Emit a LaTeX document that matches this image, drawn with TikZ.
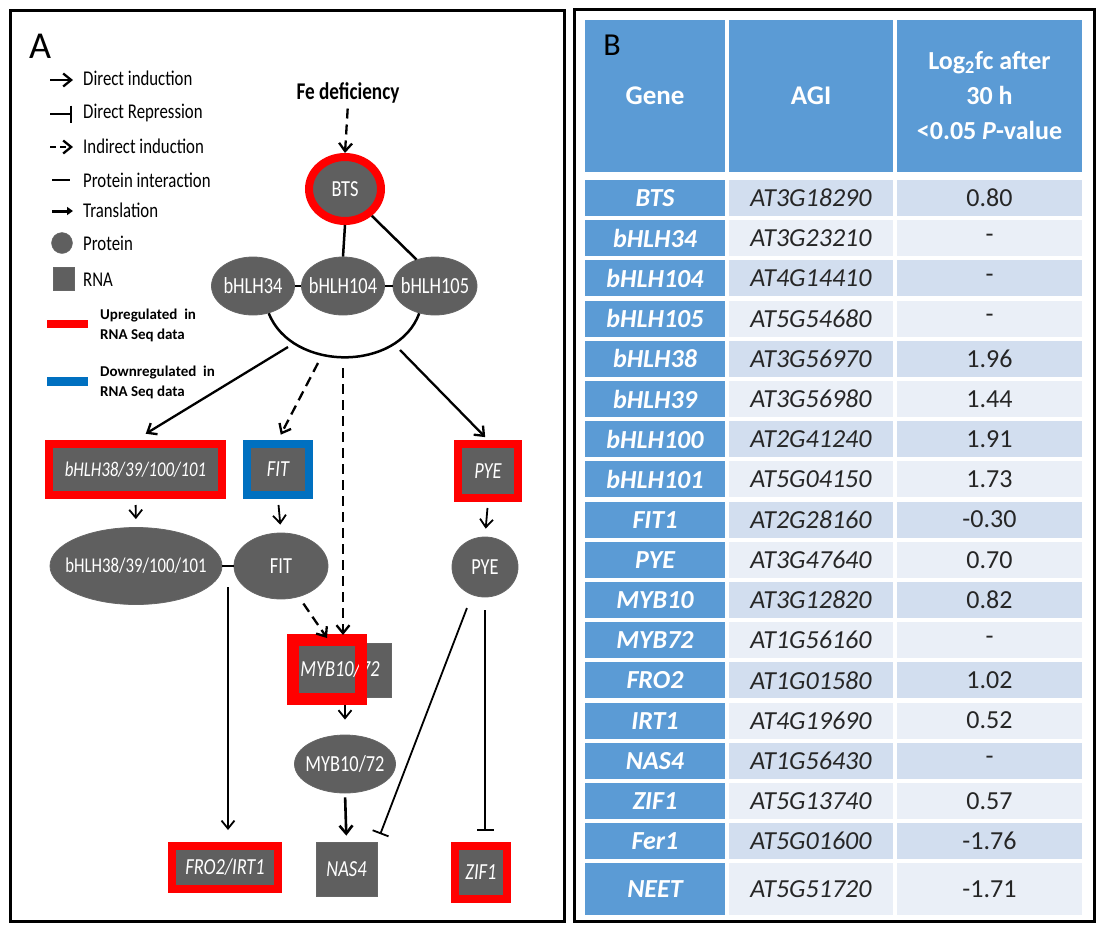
\documentclass[tikz,border=0pt]{standalone}
\usepackage{fontspec}
\setmainfont{Carlito}
\newfontfamily\condfont[FakeStretch=0.8]{Carlito}
\usetikzlibrary{shapes.geometric, arrows.meta, calc}

\definecolor{protgrey}{HTML}{5F5F5F}
\definecolor{upred}{HTML}{FF0000}
\definecolor{downblue}{HTML}{0070C0}
\definecolor{hdrblue}{HTML}{5B9BD5}
\definecolor{rowdark}{HTML}{D2DEEF}
\definecolor{rowlight}{HTML}{EAEFF7}

\newcommand{\zw}[1]{\makebox[0pt]{#1}}

\tikzset{
  prot/.style={ellipse, fill=protgrey, draw=black!60, line width=0.8pt, inner sep=0pt,
    text=white, font=\condfont\fontsize{23}{23}\selectfont},
  rna/.style={rectangle, fill=protgrey, draw=black!60, line width=0.8pt, inner sep=0pt,
    text=white, font=\condfont\fontsize{23}{23}\selectfont\itshape},
  upreg/.style={draw=upred, line width=8pt},
  downreg/.style={draw=downblue, line width=8pt},
  induce/.style={->, line width=2.3pt},
  indirect/.style={->, line width=2.3pt, dash pattern=on 10pt off 6pt},
  repress/.style={-{Bar[width=17pt]}, line width=1.8pt},
  interact/.style={line width=2.5pt},
  transl/.style={->, line width=1.8pt},
  legtext/.style={anchor=base west, inner sep=0pt, font=\condfont\fontsize{21}{21}\selectfont},
  keytext/.style={anchor=west, inner sep=0pt, align=left, font=\fontsize{15}{20}\selectfont\bfseries},
  cell/.style={rectangle, inner sep=0pt, font=\fontsize{26}{28}\selectfont},
}

\begin{document}
\begin{tikzpicture}[x=1pt, y=-1pt, >={Straight Barb[length=8pt,width=13pt]}]
  \fill[white] (0,0) rectangle (1098,924);
  \useasboundingbox (0,0) rectangle (1098,924);

  % panel A
  \draw[line width=3pt] (10,10) rectangle (564,921);
  \node[anchor=base, inner sep=0pt, font=\fontsize{38}{38}\selectfont] (lblA) at (40,58) {A};

  % legend
  \node[legtext] (lgDI) at (83,85) {Direct induction};
  \node[legtext] (lgDR) at (83,118) {Direct Repression};
  \node[legtext] (lgII) at (83,153) {Indirect induction};
  \node[legtext] (lgPI) at (83,187) {Protein interaction};
  \node[legtext] (lgTR) at (83,217) {Translation};
  \node[legtext] (lgP) at (83,250) {Protein};
  \node[legtext] (lgR) at (83,286) {RNA};
  \draw[induce] ($(lgDI.base west)+(-33,-5)$) -- ($(lgDI.base west)+(-10,-5)$);
  \draw[repress, line width=2.2pt] ($(lgDR.base west)+(-33,-4)$) -- ($(lgDR.base west)+(-11,-4)$);
  \draw[indirect, dash pattern=on 6pt off 4pt] ($(lgII.base west)+(-33,-6)$) -- ($(lgII.base west)+(-10,-6)$);
  \draw[interact] ($(lgPI.base west)+(-31,-7)$) -- ($(lgPI.base west)+(-13,-7)$);
  \draw[-{Triangle[length=6pt,width=8pt]}, line width=3pt] ($(lgTR.base west)+(-31,-6)$) -- ($(lgTR.base west)+(-10,-6)$);
  \draw[fill=protgrey, draw=black!60] ($(lgP.base west)+(-21,-7)$) circle (10.5);
  \draw[fill=protgrey, draw=black!60] ($(lgR.base west)+(-30,-19)$) rectangle +(21,23);

  \fill[upred] (47,320) rectangle (88,328);
  \node[keytext] (keyUp) at (100,325) {Upregulated\ \ in\\RNA Seq data};
  \fill[downblue] (47,377) rectangle (88,386);
  \node[keytext] (keyDown) at (100,382) {Downregulated\ \ in\\RNA Seq data};

  % network
  \node[inner sep=0pt, font=\condfont\fontsize{24}{24}\selectfont\bfseries] (fe) at (348,93) {Fe deficiency};
  \node[prot, upreg, minimum width=72, minimum height=64] (bts) at (345,189) {\zw{BTS}};
  \node[prot, minimum width=83, minimum height=58] (b34) at (253,286) {\zw{bHLH34}};
  \node[prot, minimum width=83, minimum height=58] (b104) at (343,286) {\zw{bHLH104}};
  \node[prot, minimum width=84, minimum height=58] (b105) at (435,286) {\zw{bHLH105}};

  \node[rna, upreg, minimum width=173, minimum height=51,
    font=\condfont\fontsize{21}{21}\selectfont\itshape] (bhlhR) at (135.5,469.5) {bHLH38/39/100/101};
  \node[rna, downreg, minimum width=62, minimum height=51] (fitR) at (278,469.5) {FIT};
  \node[rna, upreg, minimum width=60, minimum height=54] (pyeR) at (488,471) {PYE};

  \node[prot, minimum width=172, minimum height=77,
    font=\condfont\fontsize{21}{21}\selectfont] (bhlhP) at (136,566) {\zw{bHLH38/39/100/101}};
  \node[prot, minimum width=94, minimum height=66] (fitP) at (281,566) {\zw{FIT}};
  \node[prot, minimum width=66, minimum height=60] (pyeP) at (485,567) {\zw{PYE}};

  \node[rna, minimum width=41, minimum height=54] (myb72) at (370.5,670) {};
  \node[rna, upreg, minimum width=64, minimum height=55] (mybR) at (327,669.5) {};
  \node[inner sep=0pt, text=white, font=\condfont\fontsize{23}{23}\selectfont\itshape] (mybT) at (340,669) {MYB10/72};
  \draw[upred, line width=8pt] (mybR.north west) rectangle (mybR.south east);
  \node[prot, minimum width=101, minimum height=58] (mybP) at (345,764) {\zw{MYB10/72}};

  \node[rna, upreg, minimum width=106, minimum height=43] (froR) at (225,867.5) {FRO2/IRT1};
  \node[rna, minimum width=61, minimum height=54] (nasR) at (346.5,869) {NAS4};
  \node[rna, upreg, minimum width=52, minimum height=53] (zifR) at (481,872.5) {ZIF1};

  \coordinate (kA) at (288,347);
  \coordinate (kB) at (318,363);
  \coordinate (kC) at (343,368);
  \coordinate (kD) at (400,350);
  \coordinate (kE) at (228,587);

  \draw[indirect, shorten <=5pt] (fe.south) -- (bts.north);
  \draw[interact] (bts.south) -- (b104.north);
  \draw[interact] (bts.-45) -- (b105.125);
  \draw[interact] (b34.east) -- (b104.west);
  \draw[interact] (b104.east) -- (b105.west);
  \draw[interact] (b34.-60) .. controls (292,372) and (398,372) .. (b105.-120);

  \draw[induce, shorten >=12pt] (kA) -- (bhlhR.north);
  \draw[indirect, shorten >=6pt] (kB) -- (fitR.north);
  \draw[indirect, shorten >=3pt] (kC) -- (kC |- mybR.north);
  \draw[induce, shorten >=4pt] (kD) -- (pyeR.north);

  \draw[transl, shorten <=6pt, shorten >=8pt] (bhlhR.south) -- (bhlhP.north);
  \draw[transl, shorten <=6pt, shorten >=8pt] (fitR.south) -- (fitP.north);
  \draw[transl, shorten <=6pt, shorten >=8pt] (pyeR.south) -- (pyeP.north);

  \draw[interact] (bhlhP.east) -- (fitP.west);
  \draw[induce, line width=1.8pt, shorten >=12pt] (kE) -- (kE |- froR.north);
  \draw[indirect, shorten <=8pt] (fitP.-60) -- (mybR.north);
  \draw[transl, shorten <=4pt, shorten >=15pt] (mybP.north |- mybR.south) -- (mybP.north);
  \draw[induce, line width=2.6pt, shorten <=4pt, shorten >=6pt] (mybP.south) -- (nasR.north);
  \draw[repress, shorten <=14pt, shorten >=8pt] (pyeP.-115) -- (nasR.north east);
  \draw[repress, shorten <=13pt, shorten >=11pt] (pyeP.south) -- (pyeP.south |- zifR.north);

  % panel B
  \draw[line width=3pt] (574,9) rectangle (1094,921);
  \node[cell, fill=hdrblue, minimum width=140, minimum height=152, text=white,
    font=\fontsize{27}{28}\selectfont\bfseries] (hGene) at (655,96) {Gene};
  \node[cell, fill=hdrblue, minimum width=164, minimum height=152, text=white,
    font=\fontsize{27}{28}\selectfont\bfseries] (hAgi) at (811,96) {AGI};
  \node[cell, fill=hdrblue, minimum width=185, minimum height=152, text=white, align=center,
    font=\fontsize{26}{35}\selectfont\bfseries] (hVal) at (989.5,96)
    {Log\textsubscript{2}fc after\\30 h\\<0.05 \textit{P}-value};
  \node[anchor=base, inner sep=0pt, font=\fontsize{32}{32}\selectfont] (lblB) at (612,55) {B};

  \foreach \gene/\agi/\val [count=\i from 0] in {BTS/AT3G18290/0.80, bHLH34/AT3G23210/-,
      bHLH104/AT4G14410/-, bHLH105/AT5G54680/-, bHLH38/AT3G56970/1.96, bHLH39/AT3G56980/1.44,
      bHLH100/AT2G41240/1.91, bHLH101/AT5G04150/1.73, FIT1/AT2G28160/-0.30, PYE/AT3G47640/0.70,
      MYB10/AT3G12820/0.82, MYB72/AT1G56160/-, FRO2/AT1G01580/1.02, IRT1/AT4G19690/0.52,
      NAS4/AT1G56430/-, ZIF1/AT5G13740/0.57, Fer1/AT5G01600/-1.76, NEET/AT5G51720/-1.71} {
    \ifnum\i=17 \def\rh{52}\else\def\rh{36}\fi
    \ifodd\i \def\rc{rowlight}\else\def\rc{rowdark}\fi
    \pgfmathsetmacro{\yc}{180+40.2*\i+\rh/2}
    \node[cell, fill=hdrblue, minimum width=140, minimum height=\rh, text=white,
      font=\fontsize{26}{28}\selectfont\bfseries\itshape] (g\i) at (655,\yc) {\gene};
    \node[cell, fill=\rc, minimum width=164, minimum height=\rh, text=black!85,
      font=\fontsize{26}{28}\selectfont\itshape] (a\i) at (811,\yc) {\agi};
    \node[cell, fill=\rc, minimum width=185, minimum height=\rh, text=black!85] (v\i) at (989.5,\yc) {\val};
  }
\end{tikzpicture}
\end{document}
